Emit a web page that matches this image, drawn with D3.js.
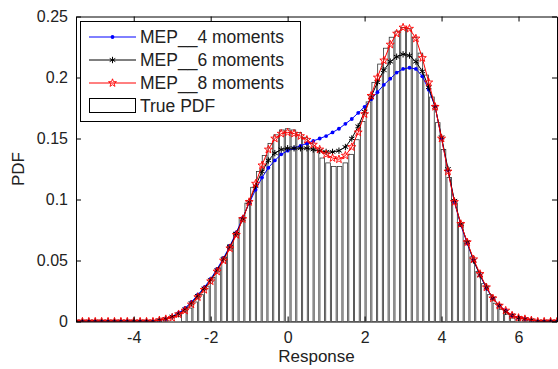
<!DOCTYPE html>
<html>
<head>
<meta charset="utf-8">
<script src="https://cdn.jsdelivr.net/npm/d3@7/dist/d3.min.js"></script>
<style>
  html, body { margin: 0; padding: 0; background: #fff; }
  svg { display: block; font-family: "Liberation Sans", Arial, Helvetica, sans-serif; }
</style>
</head>
<body>
<svg id="chart" width="558" height="369"></svg>
<script>
// Evaluation grid of the maximum-entropy PDFs: x = -5.5 + k/6, k = 0..75
const curveStart = -5.5;
const curveStep = 1 / 6;

// MEP with 4 moments
const mep4 = [
  0, 0, 0, 0, 0, 0, 0, 0, 0, 0, 0, 0, 0,
  0.001, 0.002, 0.004, 0.007, 0.011, 0.016, 0.022, 0.028, 0.035, 0.043,
  0.052, 0.062, 0.073, 0.085, 0.097, 0.108, 0.118, 0.126, 0.132, 0.137,
  0.140, 0.142, 0.144, 0.146, 0.148, 0.150, 0.152, 0.155, 0.158, 0.162,
  0.166, 0.171, 0.176, 0.182, 0.188, 0.194, 0.199, 0.204, 0.207, 0.208,
  0.207, 0.201, 0.190, 0.176, 0.150, 0.124, 0.098, 0.079, 0.064, 0.050,
  0.038, 0.027, 0.019, 0.013, 0.009, 0.005, 0.003, 0.002, 0.001,
  0, 0, 0, 0
];

// MEP with 6 moments
const mep6 = [
  0, 0, 0, 0, 0, 0, 0, 0, 0, 0, 0, 0, 0,
  0.001, 0.002, 0.004, 0.006, 0.010, 0.015, 0.021, 0.027, 0.034, 0.042,
  0.051, 0.061, 0.072, 0.084, 0.098, 0.111, 0.123, 0.132, 0.138, 0.141,
  0.142, 0.142, 0.142, 0.142, 0.141, 0.140, 0.139, 0.139, 0.140, 0.143,
  0.150, 0.160, 0.172, 0.184, 0.196, 0.206, 0.213, 0.217, 0.219, 0.218,
  0.213, 0.205, 0.192, 0.176, 0.151, 0.125, 0.099, 0.080, 0.065, 0.050,
  0.038, 0.028, 0.019, 0.013, 0.008, 0.005, 0.003, 0.002, 0.001,
  0, 0, 0, 0
];

// MEP with 8 moments
const mep8 = [
  0, 0, 0, 0, 0, 0, 0, 0, 0, 0, 0, 0, 0,
  0.001, 0.002, 0.003, 0.006, 0.009, 0.014, 0.020, 0.026, 0.033, 0.041,
  0.050, 0.060, 0.071, 0.084, 0.098, 0.113, 0.128, 0.141, 0.150, 0.154,
  0.155, 0.154, 0.152, 0.149, 0.145, 0.141, 0.137, 0.134, 0.133, 0.136,
  0.143, 0.155, 0.170, 0.185, 0.200, 0.214, 0.227, 0.236, 0.241, 0.240,
  0.232, 0.216, 0.196, 0.176, 0.150, 0.123, 0.098, 0.080, 0.065, 0.051,
  0.039, 0.028, 0.019, 0.013, 0.009, 0.005, 0.003, 0.002, 0.001,
  0, 0, 0, 0
];

// True PDF histogram: bin centres -2.7 + 0.15*i
const binStart = -2.7;
const binWidth = 0.15;
const truePdf = [
  0.008, 0.011, 0.016, 0.022, 0.029, 0.036, 0.044, 0.053, 0.063, 0.073,
  0.085, 0.097, 0.110, 0.123, 0.136, 0.146, 0.153, 0.157, 0.158, 0.157,
  0.155, 0.151, 0.146, 0.140, 0.134, 0.130, 0.127, 0.127, 0.130, 0.137,
  0.149, 0.164, 0.180, 0.196, 0.211, 0.224, 0.233, 0.238, 0.241, 0.240,
  0.233, 0.220, 0.202, 0.184, 0.163, 0.141, 0.118, 0.097, 0.080, 0.066,
  0.053, 0.041, 0.031, 0.022, 0.015, 0.010, 0.006, 0.003
];

const xTicks = [-4, -2, 0, 2, 4, 6];
const yTicks = [0, 0.05, 0.1, 0.15, 0.2, 0.25];
const yTickLabels = ["0", "0.05", "0.1", "0.15", "0.2", "0.25"];
const seriesNames = ["MEP__4 moments", "MEP__6 moments", "MEP__8 moments", "True PDF"];

const svg = d3.select("#chart");
const plot = { left: 76, right: 557, top: 16.5, bottom: 321.5 };

const x = d3.scaleLinear().domain([-5.5, 7]).range([plot.left, plot.right]);
const y = d3.scaleLinear().domain([0, 0.25]).range([plot.bottom, plot.top]);

svg.append("defs").append("clipPath").attr("id", "plotClip")
  .append("rect")
  .attr("x", plot.left).attr("y", plot.top - 2)
  .attr("width", plot.right - plot.left + 1)
  .attr("height", plot.bottom - plot.top + 2);

const g = svg.append("g").attr("clip-path", "url(#plotClip)");

// histogram bars
const bins = truePdf.map((v, i) => ({ c: binStart + binWidth * i, v }));
g.append("g").selectAll("rect").data(bins).join("rect")
  .attr("x", d => x(d.c - binWidth * 0.4))
  .attr("width", d => x(d.c + binWidth * 0.4) - x(d.c - binWidth * 0.4))
  .attr("y", d => y(d.v))
  .attr("height", d => y(0) - y(d.v))
  .attr("fill", "#fff")
  .attr("stroke", "#333")
  .attr("stroke-width", 0.8);

const line = d3.line().x(d => x(d.x)).y(d => y(d.v));
const toPts = arr => arr.map((v, k) => ({ x: curveStart + curveStep * k, v }));

// marker shapes
const star5 = (r) => {
  const pts = [];
  for (let i = 0; i < 10; i++) {
    const a = -Math.PI / 2 + i * Math.PI / 5;
    const rr = i % 2 === 0 ? r : r * 0.4;
    pts.push([rr * Math.cos(a), rr * Math.sin(a)]);
  }
  return "M" + pts.map(p => p[0].toFixed(2) + "," + p[1].toFixed(2)).join("L") + "Z";
};
const asterisk = (r) => {
  let p = `M0,${-r}L0,${r}`;
  const a = r * 0.87, b = r * 0.5;
  p += `M${-a},${-b}L${a},${b}M${-a},${b}L${a},${-b}`;
  return p;
};

function drawMarker(sel, kind, color) {
  if (kind === "dot") {
    sel.append("circle").attr("r", 1.9).attr("fill", color).attr("stroke", "none");
  } else if (kind === "asterisk") {
    sel.append("path").attr("d", asterisk(3.2)).attr("fill", "none")
      .attr("stroke", color).attr("stroke-width", 1);
  } else {
    sel.append("path").attr("d", star5(4.2)).attr("fill", "none")
      .attr("stroke", color).attr("stroke-width", 0.9);
  }
}

const series = [
  { data: mep4, color: "#0000ff", marker: "dot" },
  { data: mep6, color: "#000000", marker: "asterisk" },
  { data: mep8, color: "#ff0000", marker: "star" }
];

series.forEach(s => {
  const pts = toPts(s.data);
  g.append("path").datum(pts)
    .attr("d", line)
    .attr("fill", "none")
    .attr("stroke", s.color)
    .attr("stroke-width", 1);
  g.append("g").selectAll("g").data(pts).join("g")
    .attr("transform", d => `translate(${x(d.x)},${y(d.v)})`)
    .each(function () { drawMarker(d3.select(this), s.marker, s.color); });
});

// axes with inward ticks
const axisFont = 16;
const axBottom = svg.append("g").attr("transform", `translate(0,${plot.bottom})`)
  .call(d3.axisBottom(x).tickValues(xTicks).tickSizeInner(-5).tickSizeOuter(0).tickPadding(10)
    .tickFormat(d => String(d)));
const axTop = svg.append("g").attr("transform", `translate(0,${plot.top})`)
  .call(d3.axisTop(x).tickValues(xTicks).tickSizeInner(-5).tickSizeOuter(0).tickFormat(""));
const axLeft = svg.append("g").attr("transform", `translate(${plot.left},0)`)
  .call(d3.axisLeft(y).tickValues(yTicks).tickSizeInner(-5).tickSizeOuter(0).tickPadding(8)
    .tickFormat((d, i) => yTickLabels[i]));
const axRight = svg.append("g").attr("transform", `translate(${plot.right},0)`)
  .call(d3.axisRight(y).tickValues(yTicks).tickSizeInner(-5).tickSizeOuter(0).tickFormat(""));

[axBottom, axTop, axLeft, axRight].forEach(a => {
  a.select(".domain").attr("stroke", "#000").attr("stroke-width", 1);
  a.selectAll(".tick line").attr("stroke", "#000");
  a.selectAll("text").attr("font-size", axisFont).attr("fill", "#222")
    .attr("font-family", "Liberation Sans, Arial, sans-serif");
});

// axis titles
svg.append("text")
  .attr("x", (plot.left + plot.right) / 2).attr("y", 362)
  .attr("text-anchor", "middle").attr("font-size", 17).attr("fill", "#222")
  .text("Response");
svg.append("text")
  .attr("transform", `translate(24,${(plot.top + plot.bottom) / 2}) rotate(-90)`)
  .attr("text-anchor", "middle").attr("font-size", 17).attr("fill", "#222")
  .text("PDF");

// legend
const leg = svg.append("g");
leg.append("rect")
  .attr("x", 80.5).attr("y", 21.5).attr("width", 220).attr("height", 100)
  .attr("fill", "#fff").attr("stroke", "#000").attr("stroke-width", 1);
const rowY = [37, 60, 83, 106];
series.forEach((s, i) => {
  const r = leg.append("g").attr("transform", `translate(0,${rowY[i]})`);
  r.append("line").attr("x1", 89).attr("x2", 136).attr("y1", 0).attr("y2", 0)
    .attr("stroke", s.color).attr("stroke-width", 1);
  const mk = r.append("g").attr("transform", "translate(112.5,0)");
  drawMarker(mk, s.marker, s.color);
});
leg.append("rect")
  .attr("x", 89.5).attr("y", rowY[3] - 7.5).attr("width", 46).attr("height", 14)
  .attr("fill", "#fff").attr("stroke", "#000").attr("stroke-width", 1);
seriesNames.forEach((name, i) => {
  leg.append("text")
    .attr("x", 140).attr("y", rowY[i]).attr("dy", "0.36em")
    .attr("font-size", 17.5).attr("fill", "#222")
    .text(name);
});
</script>
</body>
</html>
